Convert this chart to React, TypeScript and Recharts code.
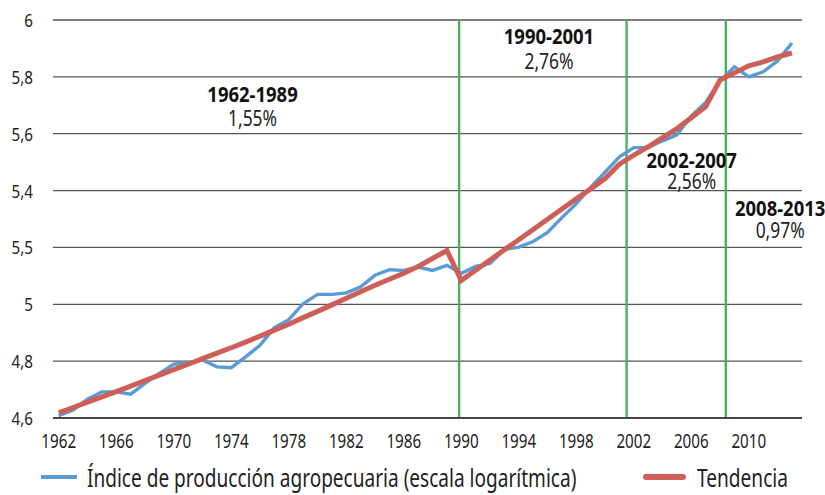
import { CartesianGrid, Legend, Line, LineChart, ReferenceDot, ReferenceLine, XAxis, YAxis } from "recharts";

const years = [
  1962, 1963, 1964, 1965, 1966, 1967, 1968, 1969, 1970, 1971, 1972, 1973, 1974,
  1975, 1976, 1977, 1978, 1979, 1980, 1981, 1982, 1983, 1984, 1985, 1986, 1987,
  1988, 1989, 1990, 1991, 1992, 1993, 1994, 1995, 1996, 1997, 1998, 1999, 2000,
  2001, 2002, 2003, 2004, 2005, 2006, 2007, 2008, 2009, 2010, 2011, 2012, 2013,
];

const indice = [
  4.608, 4.628, 4.666, 4.692, 4.692, 4.684, 4.722, 4.757, 4.789, 4.794, 4.804, 4.78, 4.777,
  4.815, 4.856, 4.918, 4.946, 5.002, 5.035, 5.035, 5.04, 5.061, 5.102, 5.122, 5.119, 5.131,
  5.119, 5.137, 5.109, 5.133, 5.144, 5.193, 5.201, 5.221, 5.253, 5.305, 5.354, 5.411, 5.465,
  5.519, 5.551, 5.552, 5.575, 5.596, 5.663, 5.71, 5.786, 5.835, 5.8, 5.818, 5.856, 5.919,
];

const tendencia = [
  4.618, 4.637, 4.656, 4.674, 4.693, 4.712, 4.732, 4.751, 4.77, 4.789, 4.809, 4.828, 4.847,
  4.867, 4.888, 4.909, 4.93, 4.953, 4.975, 4.998, 5.021, 5.044, 5.067, 5.088, 5.109, 5.133,
  5.161, 5.189, 5.084, 5.12, 5.156, 5.192, 5.227, 5.263, 5.299, 5.335, 5.371, 5.406, 5.442,
  5.493, 5.525, 5.554, 5.586, 5.618, 5.656, 5.695, 5.789, 5.814, 5.839, 5.853, 5.87, 5.884,
];

const xTicks = [1962, 1966, 1970, 1974, 1978, 1982, 1986, 1990, 1994, 1998, 2002, 2006, 2010];
const yTicks = [4.6, 4.8, 5.0, 5.2, 5.4, 5.6, 5.8, 6.0];
const yTickLabels = ["4,6", "4,8", "5", "5,5", "5,4", "5,6", "5,8", "6"];

const breakYears = [1989.85, 2001.5, 2008.4];

const periods = [
  { x: 1975.48, y: 5.712, title: "1962-1989", rate: "1,55%", gap: 24 },
  { x: 1996.1, y: 5.916, title: "1990-2001", rate: "2,76%", gap: 25 },
  { x: 2006.03, y: 5.481, title: "2002-2007", rate: "2,56%", gap: 21 },
  { x: 2012.18, y: 5.312, title: "2008-2013", rate: "0,97%", gap: 22 },
];

const seriesNames = ["Índice de producción agropecuaria (escala logarítmica)", "Tendencia"];

const chartData = years.map((year, i) => ({
  year,
  indice: indice[i],
  tendencia: tendencia[i],
}));

const FONT = "'Noto Sans', 'DejaVu Sans', sans-serif";
const BLUE = "#5b9bd5";
const RED = "#cd5f58";
const GREEN = "#48b25e";
const INK = "#222";

// narrow-looking text: regular font squeezed horizontally around its anchor
const Squeezed = ({ x, y, anchor = "middle", scale = 0.8, size, weight = "normal", fill = INK, children }: any) => (
  <g transform={`translate(${x},${y}) scale(${scale},1)`}>
    <text x={0} y={0} textAnchor={anchor} fontFamily={FONT} fontSize={size} fontWeight={weight} fill={fill}>
      {children}
    </text>
  </g>
);

const XTick = ({ x, y, payload }: any) => (
  <Squeezed x={x} y={y + 14} size={20} scale={0.76}>
    {String(payload.value)}
  </Squeezed>
);

const YTick = ({ x, y, payload }: any) => {
  const idx = yTicks.findIndex((t) => Math.abs(t - payload.value) < 1e-6);
  return (
    <Squeezed x={x} y={y + 7} size={19} scale={0.8} anchor="end">
      {yTickLabels[idx]}
    </Squeezed>
  );
};

const PeriodLabel = (title: string, rate: string, gap: number) => (props: any) => {
  const { cx, cy } = props;
  return (
    <g>
      <Squeezed x={cx} y={cy} size={22} scale={0.84} weight="bold" fill="#111">
        {title}
      </Squeezed>
      <Squeezed x={cx} y={cy + gap} size={21} scale={0.83}>
        {rate}
      </Squeezed>
    </g>
  );
};

const ChartLegend = () => (
  <svg width={802} height={40} style={{ display: "block" }}>
    <line x1={41} x2={77} y1={22} y2={22} stroke={BLUE} strokeWidth={4} />
    <Squeezed x={87} y={32} size={26} scale={0.733} anchor="start">
      {seriesNames[0]}
    </Squeezed>
    <line x1={646} x2={683} y1={22} y2={22} stroke={RED} strokeWidth={6} strokeLinecap="round" />
    <Squeezed x={697} y={32} size={26} scale={0.735} anchor="start">
      {seriesNames[1]}
    </Squeezed>
  </svg>
);

export default function App() {
  return (
    <div style={{ position: "absolute", left: 0, top: 0, width: 825, height: 495, background: "#fff" }}>
      <LineChart width={825} height={495} data={chartData} margin={{ top: 20, right: 23, left: 0, bottom: 0 }}>
        <CartesianGrid vertical={false} stroke="#555" strokeWidth={1.3} />
        <XAxis
          dataKey="year"
          type="number"
          domain={[1961.6, 2013.7]}
          ticks={xTicks}
          interval={0}
          tickLine={false}
          axisLine={{ stroke: "#333", strokeWidth: 1.5 }}
          tick={<XTick />}
          tickSize={0}
          tickMargin={16}
          height={37}
        />
        <YAxis
          type="number"
          domain={[4.6, 6]}
          ticks={yTicks}
          interval={0}
          tickLine={false}
          axisLine={false}
          tick={<YTick />}
          tickSize={6}
          tickMargin={14}
          width={53}
        />
        {breakYears.map((x) => (
          <ReferenceLine key={x} x={x} stroke={GREEN} strokeWidth={2.4} />
        ))}
        <Line
          dataKey="indice"
          name={seriesNames[0]}
          stroke={BLUE}
          strokeWidth={3.4}
          dot={false}
          type="linear"
          isAnimationActive={false}
        />
        <Line
          dataKey="tendencia"
          name={seriesNames[1]}
          stroke={RED}
          strokeWidth={5}
          dot={false}
          type="linear"
          isAnimationActive={false}
        />
        {periods.map((p) => (
          <ReferenceDot key={p.title} x={p.x} y={p.y} r={0} shape={PeriodLabel(p.title, p.rate, p.gap)} />
        ))}
        <Legend verticalAlign="bottom" height={40} content={() => <ChartLegend />} />
      </LineChart>
    </div>
  );
}
